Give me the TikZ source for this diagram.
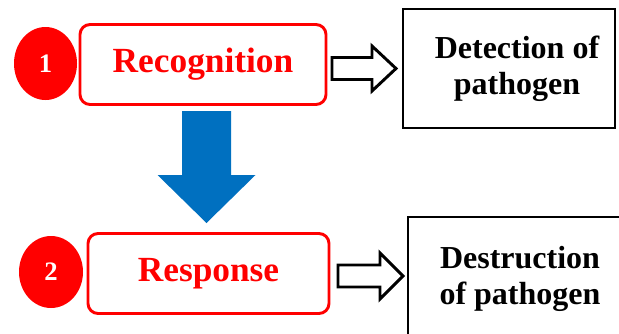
\documentclass[tikz,border=0pt]{standalone}
\usepackage{fontspec}
\newfontfamily\tnrb{Liberation Serif Bold}
\usetikzlibrary{shapes.geometric}
\definecolor{pred}{RGB}{255,0,0}
\definecolor{pblue}{RGB}{0,112,192}
\tikzset{
  redbox/.style={draw=pred, line width=2.2pt, rounded corners=7.5pt, rectangle, fill=white, inner sep=0pt,
    text=pred, font=\tnrb\fontsize{26.5}{30}\selectfont},
  blackbox/.style={draw=black, line width=2.2pt, rectangle, inner sep=0pt, align=center,
    font=\tnrb\fontsize{24}{27}\selectfont},
  numdot/.style={ellipse, fill=pred, inner sep=0pt, text=white,
    font=\tnrb\fontsize{20}{24}\selectfont},
  hollow/.style={draw=black, line width=2.2pt, fill=white, line join=miter},
  bluearrow/.style={fill=pblue, draw=none}
}
\begin{document}
\begin{tikzpicture}[x=0.75pt,y=-0.75pt]
\useasboundingbox (0,0) rectangle (619,333);
% red boxes
\node[redbox, minimum width=246*0.75pt, minimum height=80*0.75pt] (rec) at (203,64.5) {Recognition};
\node[redbox, minimum width=241*0.75pt, minimum height=80*0.75pt] (resp) at (208.5,273.5) {Response};
% number dots
\node[numdot, minimum width=63*0.75pt, minimum height=73*0.75pt] (n1) at (45.5,63.5) {1};
\node[numdot, minimum width=64*0.75pt, minimum height=72*0.75pt] (n2) at (51,272) {2};
% black boxes
\node[blackbox, minimum width=212*0.75pt, minimum height=119*0.75pt] (det) at (509,68.5) {\hspace*{12pt}Detection of\\\hspace*{12pt}pathogen};
\node[blackbox, minimum width=224*0.75pt, minimum height=123*0.75pt] (des) at (520,278.5) {Destruction\\of pathogen};
% hollow arrows
\coordinate (a1) at (364,68.5);
\draw[hollow, shift={(a1)}] (-32,-11) -- (8,-11) -- (8,-22.5) -- (32,0) -- (8,22.5) -- (8,11) -- (-32,11) -- cycle;
\coordinate (a2) at (370.5,276);
\draw[hollow, shift={(a2)}] (-32.5,-11) -- (9.5,-11) -- (9.5,-23) -- (32.5,0) -- (9.5,23) -- (9.5,11) -- (-32.5,11) -- cycle;
% blue arrow
\coordinate (b1) at (206.5,111);
\fill[bluearrow, shift={(b1)}] (-24.5,0) -- (24.5,0) -- (24.5,64) -- (49,64) -- (0,112) -- (-49,64) -- (-24.5,64) -- cycle;
\end{tikzpicture}
\end{document}
